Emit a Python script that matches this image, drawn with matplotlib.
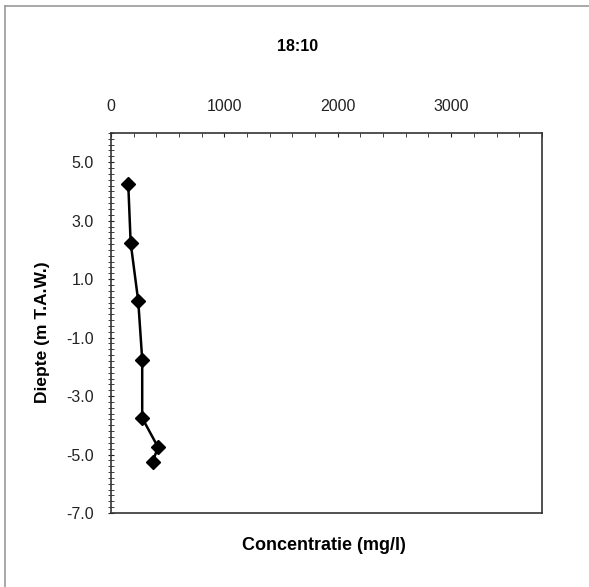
import matplotlib
matplotlib.use("Agg")
import matplotlib.pyplot as plt
from matplotlib.ticker import MultipleLocator, FormatStrFormatter
from matplotlib.lines import Line2D

plt.rcParams['font.family'] = ['Liberation Sans', 'DejaVu Sans']
plt.rcParams['axes.unicode_minus'] = False

title = "18:10"
concentration = [152, 173, 240, 275, 275, 415, 366]
depth = [4.25, 2.25, 0.25, -1.75, -3.75, -4.75, -5.25]
x_ticks = [0, 1000, 2000, 3000]
y_ticks = [5.0, 3.0, 1.0, -1.0, -3.0, -5.0, -7.0]

fig = plt.figure(figsize=(5.89, 5.87), dpi=100)
# outer chart-area frame (only left and top edges visible in the scan)
fig.lines.append(Line2D([0.009, 0.009], [0.0, 0.990], transform=fig.transFigure,
                        color='#999999', linewidth=1.2))
fig.lines.append(Line2D([0.009, 1.0], [0.990, 0.990], transform=fig.transFigure,
                        color='#999999', linewidth=1.2))

ax = fig.add_axes([0.1885, 0.126, 0.7315, 0.6475])
ax.plot(concentration, depth, color='black', linewidth=1.8, marker='D',
        markersize=7, markerfacecolor='black', markeredgecolor='black')
ax.set_xlim(0, 3800)
ax.set_ylim(-7, 6)
ax.xaxis.tick_top()
ax.set_xticks(x_ticks)
ax.set_yticks(y_ticks)
ax.xaxis.set_minor_locator(MultipleLocator(200))
ax.yaxis.set_minor_locator(MultipleLocator(0.2))
ax.yaxis.set_major_formatter(FormatStrFormatter('%.1f'))
ax.tick_params(axis='both', which='both', labelsize=11.5, colors='#222222')
ax.tick_params(axis='x', which='both', direction='in', length=3, pad=14)
ax.tick_params(axis='y', which='both', direction='inout', length=5, pad=10)
for s in ax.spines.values():
    s.set_linewidth(1.2)
    s.set_color('#333333')

fig.text(0.505, 0.920, title, ha='center', va='center', fontsize=11.5, fontweight='bold')
fig.text(0.55, 0.070, "Concentratie (mg/l)", ha='center', va='center', fontsize=13, fontweight='bold')
fig.text(0.073, 0.434, "Diepte (m T.A.W.)", ha='center', va='center', rotation=90,
         fontsize=12.5, fontweight='bold')

fig.savefig("out.png", dpi=100, facecolor='white')
